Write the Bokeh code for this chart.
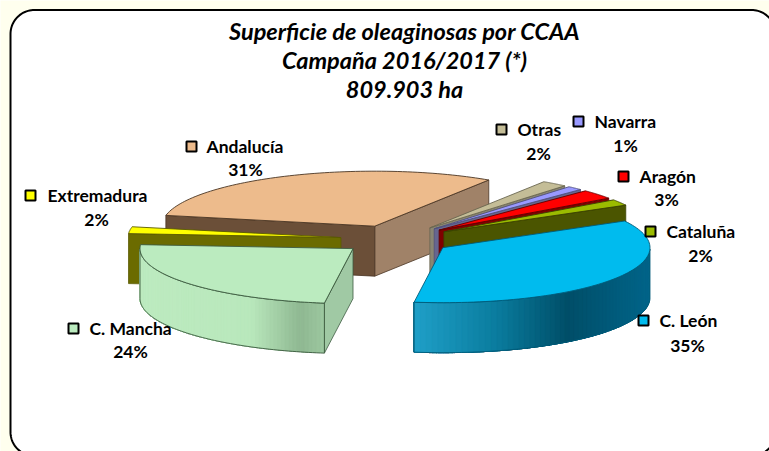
import numpy as np
from bokeh.plotting import figure
from bokeh.models import ColumnDataSource
from bokeh.core.properties import value
from bokeh.embed import file_html
from bokeh.resources import INLINE

# ---- data (clockwise pie order); shares estimated before rounding ----
regions = ["C. León", "C. Mancha", "Extremadura", "Andalucía", "Otras", "Navarra", "Aragón", "Cataluña"]
shares = [35.2, 24.0, 2.0, 31.0, 2.0, 1.2, 2.8, 1.8]
title_lines = ["Superficie de oleaginosas por CCAA", "Campaña 2016/2017 (*)", "809.903 ha"]

# ---- styles ----
top_colors = ["#00BBEE", "#BBEBBF", "#FFFF00", "#EDBB8C", "#C4BD97", "#9999FF", "#FF0000", "#9BBB00"]
start_face = ["#0088AA", "#A0C9A4", "#6B6B00", "#6B4F38", "#8A8672", "#66668F", "#800000", "#4B5500"]
end_face = ["#0088AA", "#A0C9A4", "#6B6B00", "#A08268", "#8A8672", "#66668F", "#800000", "#4B5500"]
edge_colors = ["#005A78", "#3C5A40", "#5A5A00", "#4A3524", "#6A6650", "#50507A", "#600000", "#3A4200"]
wall_stops = {
    0: [(0, "#1F9FC8"), (.35, "#0A7C9E"), (.65, "#004E68"), (1, "#00658A")],
    1: [(0, "#BDEBC0"), (.6, "#B9E8BC"), (.87, "#8FB892"), (1, "#9DC8A0")],
}
draw_order = [3, 4, 5, 6, 7, 0, 2, 1]

# ---- pie layout, in page pixels ----
W, H = 769, 451
cx, cy, a, b, depth, explode, first_angle = 396, 239, 213, 55, 50, .263, 29.0
squeeze = .027  # the right side of the pie is drawn slightly narrower than the left


def hex2rgb(c):
    return np.array([int(c[i:i + 2], 16) for i in (1, 3, 5)], float)


def ramp(stops, f):
    pos = [s[0] for s in stops]
    cols = np.array([hex2rgb(s[1]) for s in stops])
    v = [np.interp(f, pos, cols[:, i]) for i in range(3)]
    return "#%02x%02x%02x" % tuple(int(round(x)) for x in v)


polys = dict(xs=[], ys=[], fill=[], line=[], lw=[], alpha=[])


def add(xs, ys, fill, line, lw=1.0, alpha=1.0):
    polys["xs"].append(list(map(float, xs)))
    polys["ys"].append(list(map(float, ys)))
    polys["fill"].append(fill)
    polys["line"].append(line)
    polys["lw"].append(lw)
    polys["alpha"].append(alpha)


angles = first_angle - np.cumsum([0] + shares) * 3.6
for i in draw_order:
    t0, t1 = angles[i], angles[i + 1]
    mid = np.radians((t0 + t1) / 2)
    ax = cx + explode * a * np.cos(mid)
    ay = cy - explode * b * np.sin(mid)
    ts = np.radians(np.linspace(t0, t1, 80))
    rx = ax + a * np.cos(ts) * (1 - squeeze * np.maximum(np.cos(ts), 0))
    ry = ay - b * np.sin(ts)

    # cut faces that look toward the viewer
    if np.cos(np.radians(t1)) > 0:
        ex, ey = rx[-1], ry[-1]
        add([ax, ex, ex, ax], [ay, ey, ey + depth, ay + depth], end_face[i], edge_colors[i], .8)
    if np.cos(np.radians(t0)) < 0:
        ex, ey = rx[0], ry[0]
        add([ax, ex, ex, ax], [ay, ey, ey + depth, ay + depth], start_face[i], edge_colors[i], .8)

    # outer wall, front half only
    front = np.sin(ts) < 0
    if front.sum() > 1:
        fx, fy = rx[front], ry[front]
        stops = wall_stops.get(i, [(0, start_face[i]), (1, start_face[i])])
        lo, hi = fx.min(), fx.max()
        # painter's order: each band reaches the far end, so no seams show
        for k in range(len(fx) - 1):
            f = ((fx[k] + fx[k + 1]) / 2 - lo) / (hi - lo)
            col = ramp(stops, f)
            add(list(fx[k:]) + list(fx[k:][::-1]), list(fy[k:]) + list(fy[k:][::-1] + depth), col, col, .1)
        add(list(fx) + list(fx[::-1]), list(fy) + list(fy[::-1] + depth), "#000000", edge_colors[i], .9, 0.0)

    # top surface
    add([ax] + list(rx), [ay] + list(ry), top_colors[i], edge_colors[i], .9)

p = figure(width=W, height=H, x_range=(0, W), y_range=(H, 0),
           x_axis_type=None, y_axis_type=None, toolbar_location=None,
           output_backend="svg", min_border=0, outline_line_color=None,
           background_fill_color="#FFFFEE", border_fill_color="#FFFFEE")
p.grid.visible = False

# rounded white frame
R, L, T, RT, BT = 24, 10, 9.5, 775, 455.5
arc = lambda x0, y0, d0, d1: (x0 + R * np.cos(np.radians(np.linspace(d0, d1, 24))),
                              y0 + R * np.sin(np.radians(np.linspace(d0, d1, 24))))
c = [arc(L + R, T + R, 180, 270), arc(RT - R, T + R, 270, 360), arc(RT - R, BT - R, 0, 90), arc(L + R, BT - R, 90, 180)]
p.patch(np.concatenate([q[0] for q in c]), np.concatenate([q[1] for q in c]),
        fill_color="white", line_color="#000000", line_width=2)

p.patches("xs", "ys", source=ColumnDataSource(polys), fill_color="fill", line_color="line",
          line_width="lw", fill_alpha="alpha")

# title
p.text([404] * 3, [30.5, 59.5, 88.5], text=title_lines, text_font=value("Lato"), text_font_style="bold italic",
       text_font_size="23.5px", text_color="#000000", text_align="center", text_baseline="middle")

# labels
key_x = [643, 73, 30, 191, 501, 578, 623, 650]
key_y = [320, 328, 195, 146, 129, 121, 176, 231]
name_x = [659, 89, 47, 206, 517, 594, 639, 666]
pct_x = [687, 130, 96, 245, 538, 625, 666, 700]
pct_y = [345, 351, 219, 169, 153, 145, 199, 255]
p.scatter(key_x, key_y, marker="square", size=10, fill_color=top_colors, line_color="#000000", line_width=2)
p.text(name_x, key_y, text=regions, text_font=value("Lato"), text_font_style="bold", text_font_size="17.5px",
       text_color="#000000", text_align="left", text_baseline="middle")
p.text(pct_x, pct_y, text=["%d%%" % round(s) for s in shares], text_font=value("Lato"), text_font_style="bold",
       text_font_size="17.5px", text_color="#000000", text_align="center", text_baseline="middle")

open("out.html", "w").write(file_html(p, INLINE))
